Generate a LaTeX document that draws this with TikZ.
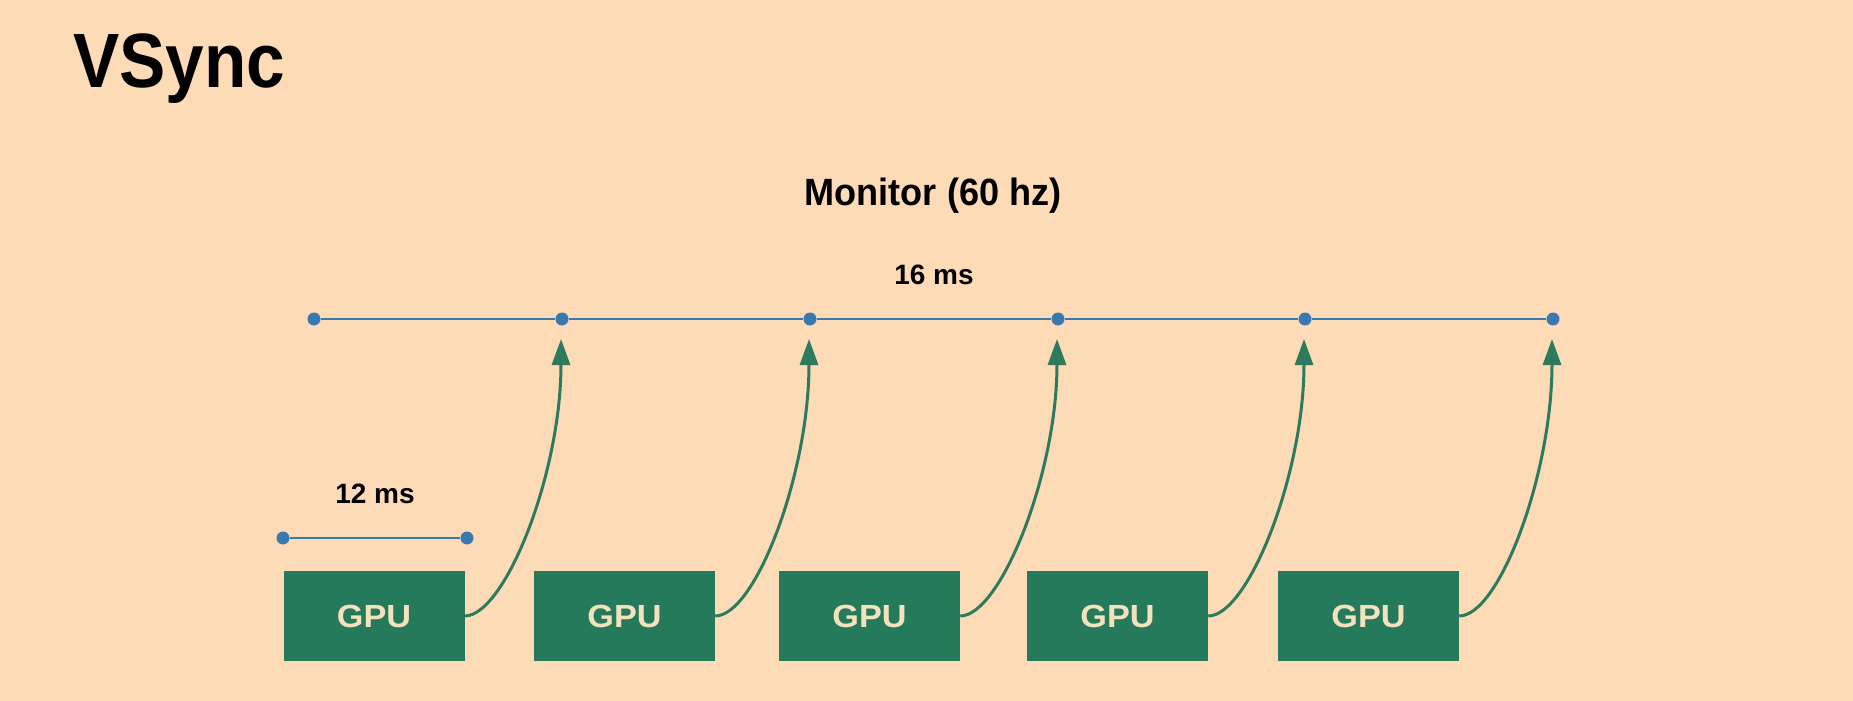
\documentclass[tikz,border=0pt]{standalone}
\usepackage{fontspec}
\setmainfont{Liberation Sans}
\newfontfamily\titlefont{Liberation Sans}[FakeStretch=0.9]
\newfontfamily\monfont{Liberation Sans}[FakeStretch=0.95]
\newfontfamily\gpufont{Liberation Sans}[FakeStretch=1.07]
\usetikzlibrary{arrows.meta}
\definecolor{bg}{HTML}{FDDBB7}
\definecolor{gpu}{HTML}{267A5C}
\definecolor{arrowc}{HTML}{2D7A5C}
\definecolor{dotc}{HTML}{3A78B0}
\definecolor{gtext}{HTML}{F3E2BD}
\tikzset{
  dotnode/.style={circle, fill=dotc, inner sep=0pt, minimum size=13pt},
  tline/.style={draw=dotc, line width=2pt},
  gpubox/.style={fill=gpu, minimum width=181pt, minimum height=90pt, inner sep=0pt,
    text=gtext, font=\gpufont\fontsize{32}{32}\selectfont\bfseries},
  arr/.style={draw=arrowc, line width=3pt, -{Triangle[length=26pt,width=18pt]}},
  lbl/.style={font=\fontsize{28}{28}\selectfont\bfseries, anchor=base, inner sep=0pt},
}
\begin{document}
\begin{tikzpicture}[x=1pt, y=-1pt]
\fill[bg] (0,0) rectangle (1853,701);
\useasboundingbox (0,0) rectangle (1853,701);
% title
\node[anchor=base west, inner sep=0pt, font=\titlefont\fontsize{77}{77}\selectfont\bfseries] (title) at (73,88) {VSync};
\node[anchor=base, inner sep=0pt, font=\monfont\fontsize{38}{38}\selectfont\bfseries] (monitor) at (933,205) {Monitor (60 hz)};
\node[lbl] (l16) at (934,284) {16 ms};
\node[lbl] (l12) at (375,503) {12 ms};
% monitor timeline
\node[dotnode] (m0) at (314,319) {};
\node[dotnode] (m1) at (562,319) {};
\node[dotnode] (m2) at (810,319) {};
\node[dotnode] (m3) at (1058,319) {};
\node[dotnode] (m4) at (1305,319) {};
\node[dotnode] (m5) at (1553,319) {};
\draw[tline] (m0) -- (m1) -- (m2) -- (m3) -- (m4) -- (m5);
% gpu timeline
\node[dotnode] (s0) at (283,538) {};
\node[dotnode] (s1) at (467,538) {};
\draw[tline] (s0) -- (s1);
% gpu boxes
\node[gpubox] (g1) at (374,616) {GPU};
\node[gpubox] (g2) at (624.5,616) {GPU};
\node[gpubox] (g3) at (869.5,616) {GPU};
\node[gpubox] (g4) at (1117.5,616) {GPU};
\node[gpubox] (g5) at (1368.5,616) {GPU};
% arrow targets
\coordinate (t1) at (561,339);
\coordinate (t2) at (809,339);
\coordinate (t3) at (1057,339);
\coordinate (t4) at (1304,339);
\coordinate (t5) at (1552,339);
\draw[arr] (g1.east) .. controls +(40,0) and +(0,135) .. (t1);
\draw[arr] (g2.east) .. controls +(40,0) and +(0,135) .. (t2);
\draw[arr] (g3.east) .. controls +(40,0) and +(0,135) .. (t3);
\draw[arr] (g4.east) .. controls +(40,0) and +(0,135) .. (t4);
\draw[arr] (g5.east) .. controls +(40,0) and +(0,135) .. (t5);
\end{tikzpicture}
\end{document}
